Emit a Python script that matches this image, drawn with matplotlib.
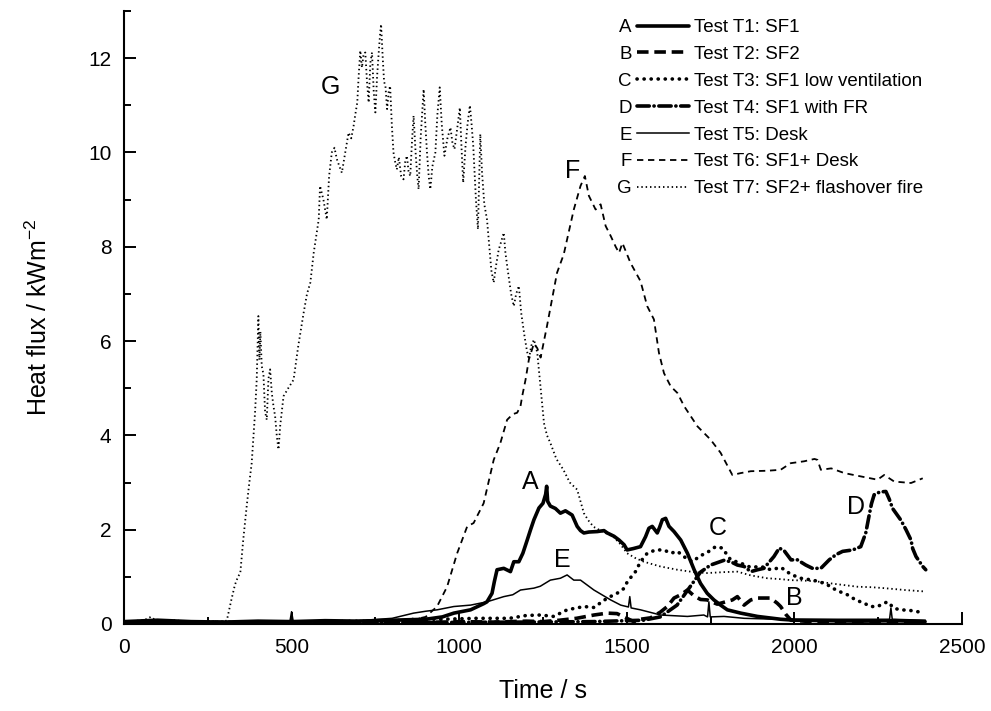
import matplotlib
matplotlib.use("Agg")
import matplotlib.pyplot as plt
from matplotlib.ticker import MultipleLocator
import numpy as np

plt.rcParams["font.family"] = ["Liberation Sans", "DejaVu Sans"]
plt.rcParams["mathtext.fontset"] = "custom"
plt.rcParams["mathtext.rm"] = "Liberation Sans"
plt.rcParams["mathtext.default"] = "regular"

# ---- heat flux records (time in s, heat flux in kW/m2) ----
t_A = [0, 100, 200, 300, 400, 500, 600, 700, 800, 900, 950, 984, 1034, 1073, 1083, 1098, 1105, 1113,
       1133, 1153, 1163, 1178, 1190, 1203, 1213, 1223, 1238, 1250, 1258, 1261, 1264, 1272, 1287, 1302,
       1317, 1337, 1352, 1362, 1372, 1387, 1412, 1432, 1442, 1462, 1477, 1492, 1501, 1520, 1541, 1556,
       1566, 1576, 1591, 1598, 1606, 1616, 1626, 1641, 1661, 1681, 1701, 1720, 1740, 1760, 1780, 1800,
       1840, 1890, 1959, 2000, 2100, 2200, 2300, 2390]
q_A = [0.05, 0.08, 0.05, 0.04, 0.06, 0.05, 0.07, 0.06, 0.08, 0.10, 0.15, 0.23, 0.30, 0.43, 0.47, 0.65, 0.90, 1.15,
       1.18, 1.11, 1.32, 1.32, 1.50, 1.78, 2.00, 2.21, 2.46, 2.56, 2.75, 2.92, 2.60, 2.50, 2.45, 2.35,
       2.40, 2.31, 2.07, 1.98, 1.93, 1.95, 1.96, 1.98, 1.93, 1.86, 1.78, 1.68, 1.57, 1.60, 1.64, 1.85,
       2.03, 2.07, 1.93, 2.05, 2.21, 2.24, 2.07, 1.96, 1.78, 1.50, 1.15, 0.86, 0.65, 0.51, 0.40, 0.30,
       0.23, 0.16, 0.10, 0.08, 0.07, 0.06, 0.07, 0.05]

t_B = [0, 300, 600, 900, 1000, 1100, 1200, 1250, 1300, 1350, 1402, 1442, 1471, 1500, 1521, 1541, 1571,
       1600, 1621, 1641, 1661, 1681, 1700, 1720, 1740, 1770, 1795, 1815, 1830, 1850, 1870, 1890, 1910,
       1929, 1949, 1959, 1975, 1990, 2050, 2150, 2250, 2390]
q_B = [0.02, 0.03, 0.02, 0.03, 0.05, 0.04, 0.06, 0.05, 0.08, 0.12, 0.19, 0.23, 0.22, 0.12, 0.05, 0.10, 0.13,
       0.25, 0.37, 0.55, 0.62, 0.72, 0.60, 0.52, 0.51, 0.42, 0.47, 0.51, 0.58, 0.40, 0.51, 0.55, 0.55,
       0.55, 0.44, 0.37, 0.20, 0.08, 0.05, 0.06, 0.05, 0.04]

t_C = [0, 200, 400, 600, 800, 869, 950, 1050, 1150, 1200, 1242, 1282, 1322, 1372, 1402, 1442, 1471,
       1491, 1502, 1526, 1541, 1561, 1586, 1611, 1631, 1651, 1676, 1696, 1716, 1745, 1765, 1785, 1810,
       1840, 1870, 1900, 1930, 1960, 1990, 2019, 2054, 2074, 2099, 2114, 2134, 2158, 2183, 2208, 2228,
       2248, 2268, 2278, 2298, 2318, 2343, 2368, 2388]
q_C = [0.03, 0.04, 0.03, 0.05, 0.06, 0.10, 0.10, 0.12, 0.12, 0.18, 0.19, 0.16, 0.30, 0.37, 0.35, 0.55, 0.65,
       0.75, 0.90, 1.11, 1.32, 1.50, 1.57, 1.57, 1.50, 1.54, 1.40, 1.32, 1.43, 1.54, 1.64, 1.61, 1.36,
       1.29, 1.20, 1.22, 1.15, 1.20, 1.05, 0.97, 0.93, 0.90, 0.83, 0.76, 0.69, 0.62, 0.51, 0.44, 0.37,
       0.37, 0.44, 0.47, 0.33, 0.30, 0.29, 0.26, 0.24]

t_D = [0, 300, 600, 900, 1200, 1400, 1550, 1600, 1650, 1690, 1720, 1750, 1790, 1810, 1830, 1850, 1870,
       1890, 1909, 1939, 1955, 1970, 1990, 2009, 2034, 2054, 2079, 2104, 2124, 2144, 2174, 2198, 2213,
       2223, 2230, 2238, 2255, 2273, 2283, 2293, 2318, 2333, 2348, 2353, 2363, 2383, 2392]
q_D = [0.02, 0.03, 0.02, 0.03, 0.04, 0.05, 0.08, 0.15, 0.40, 0.80, 1.10, 1.25, 1.35, 1.32, 1.25, 1.22, 1.11,
       1.15, 1.18, 1.43, 1.61, 1.55, 1.36, 1.36, 1.25, 1.18, 1.18, 1.36, 1.47, 1.54, 1.57, 1.64, 1.93,
       2.30, 2.55, 2.74, 2.80, 2.81, 2.65, 2.45, 2.20, 2.00, 1.78, 1.60, 1.43, 1.22, 1.15]

t_E = [0, 100, 200, 300, 400, 495, 500, 505, 600, 700, 800, 864, 900, 934, 984, 1034, 1083, 1133, 1160,
       1183, 1223, 1242, 1272, 1302, 1322, 1342, 1362, 1402, 1452, 1482, 1505, 1509, 1513, 1541, 1601,
       1681, 1730, 1741, 1745, 1749, 1790, 1850, 1950, 2050, 2150, 2250, 2284, 2288, 2292, 2390]
q_E = [0.03, 0.05, 0.04, 0.05, 0.05, 0.05, 0.26, 0.05, 0.06, 0.07, 0.12, 0.23, 0.27, 0.30, 0.37, 0.40, 0.47, 0.58, 0.62,
       0.72, 0.76, 0.80, 0.93, 0.97, 1.04, 0.93, 0.93, 0.72, 0.51, 0.40, 0.36, 0.58, 0.34, 0.30, 0.19,
       0.16, 0.19, 0.15, 0.47, 0.15, 0.16, 0.12, 0.10, 0.10, 0.10, 0.10, 0.10, 0.34, 0.10, 0.08]

t_F = [0, 200, 400, 600, 800, 869, 900, 934, 964, 994, 1024, 1043, 1073, 1103, 1123, 1143, 1160, 1173,
       1183, 1188, 1198, 1208, 1223, 1233, 1243, 1262, 1292, 1312, 1342, 1362, 1375, 1387, 1407, 1422,
       1437, 1452, 1467, 1477, 1487, 1511, 1541, 1561, 1581, 1596, 1611, 1631, 1651, 1671, 1711, 1750,
       1780, 1815, 1840, 1870, 1920, 1959, 1989, 2029, 2060, 2069, 2079, 2110, 2149, 2198, 2248, 2268,
       2298, 2348, 2383]
q_F = [0.03, 0.05, 0.04, 0.06, 0.08, 0.10, 0.15, 0.37, 0.79, 1.50, 2.07, 2.14, 2.56, 3.48, 3.84, 4.33, 4.45, 4.48,
       4.62, 4.83, 5.18, 5.61, 5.95, 5.85, 5.65, 6.32, 7.45, 7.84, 8.79, 9.29, 9.50, 9.08, 8.79, 8.90,
       8.44, 8.23, 8.00, 7.87, 8.08, 7.66, 7.27, 6.74, 6.46, 5.75, 5.32, 5.04, 4.90, 4.62, 4.19, 3.91,
       3.63, 3.16, 3.20, 3.24, 3.25, 3.27, 3.41, 3.45, 3.50, 3.48, 3.27, 3.30, 3.20, 3.13, 3.06, 3.16,
       3.02, 2.99, 3.09]

t_G = [0, 60, 80, 100, 150, 200, 250, 300, 307, 320, 331, 340, 347, 356, 366, 374, 381, 391, 396, 401,
       404, 407, 411, 416, 421, 426, 431, 436, 441, 446, 451, 456, 461, 466, 476, 490, 506, 520, 536,
       546, 556, 566, 575, 581, 585, 595, 605, 612, 620, 628, 635, 643, 650, 660, 670, 678, 685, 690,
       696, 700, 705, 710, 715, 720, 725, 730, 735, 740, 745, 750, 755, 760, 764, 767, 772, 776, 780,
       785, 790, 794, 799, 804, 809, 814, 820, 827, 834, 839, 844, 849, 854, 859, 864, 870, 875, 879,
       885, 894, 899, 904, 909, 914, 920, 929, 935, 942, 948, 956, 965, 974, 980, 986, 994, 1002, 1007,
       1012, 1019, 1025, 1032, 1037, 1042, 1050, 1056, 1060, 1063, 1068, 1075, 1083, 1090, 1096, 1103,
       1110, 1118, 1125, 1133, 1138, 1145, 1155, 1163, 1170, 1178, 1185, 1195, 1202, 1208, 1215, 1223,
       1228, 1233, 1243, 1253, 1262, 1272, 1290, 1311, 1330, 1352, 1372, 1385, 1401, 1430, 1460, 1480,
       1501, 1525, 1551, 1600, 1651, 1700, 1740, 1790, 1830, 1870, 1919, 1960, 1989, 2030, 2069, 2120,
       2188, 2230, 2268, 2330, 2388]
q_G = [0.05, 0.08, 0.15, 0.05, 0.08, 0.04, 0.06, 0.05, 0.08, 0.50, 0.83, 1.00, 1.08, 1.80, 2.49, 3.00, 3.41, 4.48, 5.18, 6.53,
       5.60, 6.20, 5.47, 5.30, 4.50, 4.33, 5.20, 5.40, 4.90, 4.62, 4.40, 3.98, 3.70, 4.20, 4.83, 5.00, 5.18, 5.90, 6.60,
       7.00, 7.24, 7.87, 8.30, 8.58, 9.29, 9.00, 8.58, 9.50, 10.00, 10.10, 9.86, 9.70, 9.57, 10.00, 10.42, 10.30, 10.56, 10.80,
       11.06, 11.60, 12.16, 11.80, 12.10, 12.12, 11.50, 11.06, 11.90, 12.12, 11.30, 10.85, 11.60, 12.12, 12.50, 12.72, 12.00, 11.50, 11.41,
       10.92, 11.30, 11.41, 10.60, 10.00, 9.80, 9.64, 9.90, 9.50, 9.43, 9.80, 9.93, 9.60, 9.50, 10.20, 10.78, 10.00, 9.50, 9.22,
       10.30, 11.34, 10.60, 10.00, 9.50, 9.22, 9.70, 10.00, 10.80, 11.38, 10.60, 9.93, 10.30, 10.53, 10.20, 10.07, 10.50, 10.95, 10.10,
       9.36, 10.14, 10.60, 11.00, 10.60, 10.14, 9.00, 8.37, 9.50, 10.39, 9.60, 8.90, 8.58, 8.00, 7.50, 7.24,
       7.60, 7.94, 8.10, 8.30, 7.87, 7.50, 7.00, 6.74, 7.00, 7.17, 6.60, 6.10, 5.80, 5.61, 5.90, 6.03,
       5.90, 5.75, 5.00, 4.26, 4.00, 3.84, 3.50, 3.27, 3.00, 2.85, 2.35, 2.20, 2.06, 1.95, 1.85, 1.70,
       1.50, 1.40, 1.32, 1.22, 1.15, 1.10, 1.08, 1.10, 1.11, 1.03, 0.97, 0.95, 0.93, 0.92, 0.90, 0.85,
       0.79, 0.78, 0.76, 0.72, 0.69]

letters = ["A", "B", "C", "D", "E", "F", "G"]
labels = ["Test T1: SF1", "Test T2: SF2", "Test T3: SF1 low ventilation", "Test T4: SF1 with FR",
          "Test T5: Desk", "Test T6: SF1+ Desk", "Test T7: SF2+ flashover fire"]
# where each curve letter sits (time, heat flux)
letter_pos = {"A": (1213, 3.02), "B": (1999, 0.55), "C": (1770, 2.03), "D": (2183, 2.49),
              "E": (1307, 1.36), "F": (1338, 9.6), "G": (615, 11.38)}

series = [(t_A, q_A), (t_B, q_B), (t_C, q_C), (t_D, q_D), (t_E, q_E), (t_F, q_F), (t_G, q_G)]
styles = [
    dict(lw=2.6, ls="-", solid_capstyle="round"),
    dict(lw=2.6, ls=(0, (3.2, 1.6))),
    dict(lw=2.6, ls=(0, (0.05, 1.9)), dash_capstyle="round"),
    dict(lw=2.6, ls=(0, (3.4, 1.3, 0.05, 1.3)), dash_capstyle="round"),
    dict(lw=1.1, ls="-"),
    dict(lw=1.3, ls=(0, (3.5, 2.6))),
    dict(lw=1.3, ls=(0, (0.8, 1.6))),
]

fig = plt.figure(figsize=(9.91, 7.11), dpi=100)
ax = fig.add_axes([0.1251, 0.1224, 0.8456, 0.8621])

handles = [None] * 7
for i in [6, 5, 4, 3, 2, 1, 0]:
    t, q = series[i]
    ln, = ax.plot(t, q, color="black", **styles[i])
    handles[i] = ln

for k, (x, y) in letter_pos.items():
    ax.text(x, y, k, fontsize=18, ha="center", va="center")

ax.set_xlim(0, 2500)
ax.set_ylim(0, 13)
ax.xaxis.set_major_locator(MultipleLocator(500))
ax.xaxis.set_minor_locator(MultipleLocator(250))
ax.yaxis.set_major_locator(MultipleLocator(2))
ax.yaxis.set_minor_locator(MultipleLocator(1))
ax.tick_params(which="both", direction="in", width=1.4, labelsize=15)
ax.tick_params(which="major", length=8.5)
ax.tick_params(which="minor", length=5)
ax.tick_params(axis="x", pad=10)
ax.tick_params(axis="y", pad=9)
for side in ["top", "right"]:
    ax.spines[side].set_visible(False)
for side in ["left", "bottom"]:
    ax.spines[side].set_linewidth(1.5)

ax.set_xlabel("Time / s", fontsize=18, labelpad=16)
ax.set_ylabel("Heat flux / kWm$^{-2}$", fontsize=18, labelpad=26)

leg = ax.legend(handles, labels, loc="upper left", bbox_to_anchor=(0.612, 0.987),
                frameon=False, fontsize=13.5, handlelength=2.8, handletextpad=0.25,
                labelspacing=0.52, borderpad=0, borderaxespad=0)

# letter tags to the left of each legend sample
fig.canvas.draw()
renderer = fig.canvas.get_renderer()
hl_px = 2.8 * 13.5 * fig.dpi / 72
tp_px = 0.25 * 13.5 * fig.dpi / 72
for txt, letter in zip(leg.get_texts(), letters):
    bb = txt.get_window_extent(renderer)
    xr = bb.x0 - tp_px - hl_px - 5
    yc = (bb.y0 + bb.y1) / 2
    fig.text(xr / fig.bbox.width, yc / fig.bbox.height, letter, fontsize=13.5,
             ha="right", va="center")

fig.savefig("out.png", dpi=100)
